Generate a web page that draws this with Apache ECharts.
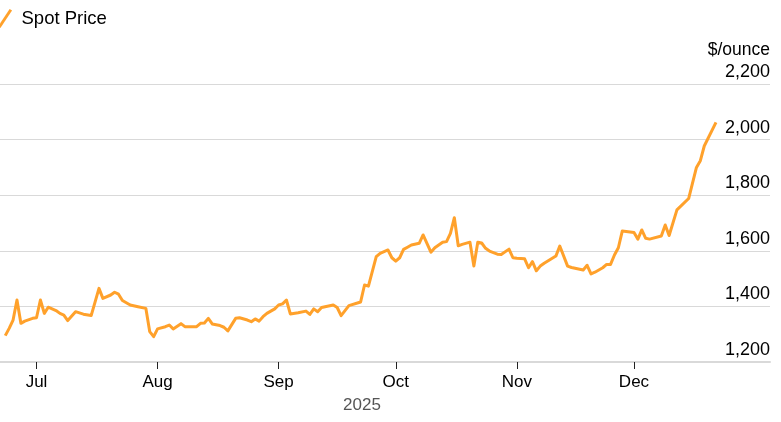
<!DOCTYPE html>
<html>
<head>
<meta charset="utf-8">
<script src="https://cdn.jsdelivr.net/npm/echarts@6/dist/echarts.min.js"></script>
<style>
  html, body { margin: 0; padding: 0; background: #fff; }
  #chart { width: 781px; height: 422px; }
</style>
</head>
<body>
<div id="chart"></div>
<script>
// spot price, $/ounce
var dates = [
    '2025-06-23', '2025-06-24', '2025-06-25', '2025-06-26', '2025-06-27', '2025-06-28', '2025-06-30',
    '2025-07-01', '2025-07-02', '2025-07-03', '2025-07-04', '2025-07-06', '2025-07-07', '2025-07-08',
    '2025-07-09', '2025-07-11', '2025-07-13', '2025-07-15', '2025-07-17', '2025-07-18', '2025-07-20',
    '2025-07-21', '2025-07-22', '2025-07-23', '2025-07-25', '2025-07-27', '2025-07-29', '2025-07-30',
    '2025-07-31', '2025-08-01', '2025-08-03', '2025-08-04', '2025-08-05', '2025-08-07', '2025-08-08',
    '2025-08-11', '2025-08-12', '2025-08-13', '2025-08-14', '2025-08-15', '2025-08-17', '2025-08-18',
    '2025-08-19', '2025-08-21', '2025-08-22', '2025-08-24', '2025-08-25', '2025-08-26', '2025-08-27',
    '2025-08-28', '2025-08-29', '2025-08-31', '2025-09-01', '2025-09-02', '2025-09-03', '2025-09-04',
    '2025-09-06', '2025-09-08', '2025-09-09', '2025-09-10', '2025-09-11', '2025-09-12', '2025-09-15',
    '2025-09-16', '2025-09-17', '2025-09-19', '2025-09-22', '2025-09-23', '2025-09-24', '2025-09-26',
    '2025-09-27', '2025-09-29', '2025-09-30', '2025-10-01', '2025-10-02', '2025-10-03', '2025-10-04',
    '2025-10-05', '2025-10-07', '2025-10-08', '2025-10-10', '2025-10-11', '2025-10-13', '2025-10-14',
    '2025-10-15', '2025-10-16', '2025-10-17', '2025-10-18', '2025-10-20', '2025-10-21', '2025-10-22',
    '2025-10-23', '2025-10-24', '2025-10-25', '2025-10-27', '2025-10-28', '2025-10-30', '2025-10-31',
    '2025-11-01', '2025-11-03', '2025-11-04', '2025-11-05', '2025-11-06', '2025-11-07', '2025-11-08',
    '2025-11-11', '2025-11-12', '2025-11-14', '2025-11-15', '2025-11-18', '2025-11-19', '2025-11-20',
    '2025-11-21', '2025-11-23', '2025-11-24', '2025-11-25', '2025-11-26', '2025-11-27', '2025-11-28',
    '2025-12-01', '2025-12-02', '2025-12-03', '2025-12-04', '2025-12-05', '2025-12-08', '2025-12-09',
    '2025-12-10', '2025-12-12', '2025-12-15', '2025-12-17', '2025-12-18', '2025-12-19', '2025-12-22'
];
var prices = [
    1295, 1321, 1351, 1423, 1339, 1347, 1357,
    1359, 1423, 1375, 1397, 1385, 1375, 1369,
    1349, 1381, 1372, 1367, 1465, 1429, 1441,
    1451, 1444, 1421, 1405, 1399, 1393, 1309,
    1291, 1319, 1327, 1333, 1319, 1338, 1327,
    1327, 1339, 1340, 1357, 1337, 1331, 1325,
    1312, 1357, 1359, 1351, 1345, 1355, 1347,
    1363, 1375, 1391, 1405, 1409, 1423, 1373,
    1377, 1383, 1371, 1391, 1381, 1396, 1405,
    1396, 1367, 1403, 1416, 1477, 1473, 1579,
    1591, 1603, 1575, 1563, 1575, 1605, 1613,
    1621, 1627, 1657, 1595, 1611, 1631, 1633,
    1663, 1719, 1618, 1623, 1631, 1545, 1631,
    1628, 1609, 1599, 1588, 1587, 1606, 1575,
    1573, 1571, 1539, 1561, 1528, 1545, 1555,
    1581, 1617, 1545, 1540, 1531, 1548, 1517,
    1523, 1539, 1551, 1551, 1585, 1611, 1671,
    1666, 1642, 1675, 1645, 1642, 1653, 1693,
    1655, 1747, 1788, 1900, 1924, 1977, 2062
];
var monthTicks = ['2025-07-01', '2025-08-01', '2025-09-01', '2025-10-01', '2025-11-01', '2025-12-01'];
var monthLabels = ['Jul', 'Aug', 'Sep', 'Oct', 'Nov', 'Dec'];
var yearLabel = '2025';

var FONT = 'Liberation Sans';

var myChart = echarts.init(document.getElementById('chart'));

function ts(s) {
    return echarts.time.parse(s).getTime();
}

var seriesData = [];
for (var i = 0; i < dates.length; i++) {
    seriesData.push([ts(dates[i]), prices[i]]);
}
var tickValues = monthTicks.map(ts);

var option = {
    animation: false,
    textStyle: { fontFamily: FONT },
    legend: {
        data: ['Spot Price'],
        left: -7,
        top: 4,
        icon: 'path://M0,18 L12,0 L14.5,1.6 L2.5,19.6 Z',
        itemWidth: 15,
        itemHeight: 19,
        textStyle: { fontSize: 18.5, color: '#000', fontFamily: FONT, padding: [0, 0, 0, 4] }
    },
    grid: {
        left: 0,
        right: 11,
        top: 84,
        bottom: 60
    },
    xAxis: {
        type: 'value',
        min: ts('2025-06-21 15:40:00'),
        max: ts('2026-01-04 20:00:00'),
        axisLine: { show: true, onZero: false, lineStyle: { color: '#d9d9d9', width: 2 } },
        axisTick: {
            show: true,
            length: 7,
            customValues: tickValues,
            lineStyle: { color: '#222', width: 1 }
        },
        axisLabel: {
            customValues: tickValues,
            margin: 12,
            fontSize: 17,
            color: '#000',
            fontFamily: FONT,
            formatter: function (val) {
                var idx = tickValues.indexOf(val);
                return idx >= 0 ? monthLabels[idx] : '';
            }
        },
        splitLine: { show: false }
    },
    yAxis: {
        type: 'value',
        position: 'right',
        min: 1200,
        max: 2200,
        interval: 200,
        name: '$/ounce',
        nameLocation: 'end',
        nameGap: 25,
        nameTextStyle: { fontSize: 17.5, color: '#000', align: 'right', verticalAlign: 'bottom', fontFamily: FONT },
        axisLine: { show: false },
        axisTick: { show: false },
        axisLabel: {
            inside: true,
            margin: 0,
            fontSize: 18,
            color: '#000',
            fontFamily: FONT,
            verticalAlign: 'bottom',
            padding: [0, 0, 3, 0],
            formatter: function (v) {
                return v.toLocaleString('en-US');
            }
        },
        splitLine: { show: true, lineStyle: { color: '#d9d9d9', width: 1 } }
    },
    graphic: [{
        type: 'text',
        x: 362,
        y: 405,
        style: { text: yearLabel, fontSize: 17, fill: '#555', fontFamily: FONT, align: 'center', verticalAlign: 'middle' }
    }],
    series: [{
        name: 'Spot Price',
        type: 'line',
        data: seriesData,
        showSymbol: false,
        symbol: 'none',
        itemStyle: { color: '#FFA12B' },
        lineStyle: { color: '#FFA12B', width: 3, join: 'round' }
    }]
};

myChart.setOption(option);
window.addEventListener('resize', function () {
    myChart.resize();
});
</script>
</body>
</html>
